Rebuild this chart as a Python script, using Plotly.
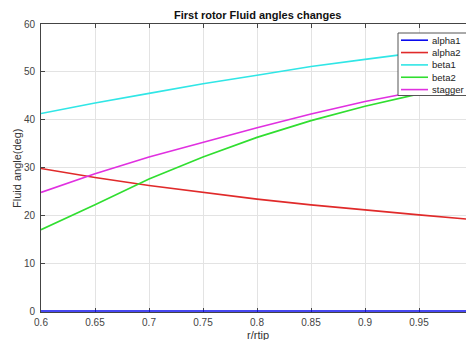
import plotly.graph_objects as go

# ---- data ----
r_rtip = [0.60, 0.65, 0.70, 0.75, 0.80, 0.85, 0.90, 0.95, 1.00]
alpha1 = [0, 0, 0, 0, 0, 0, 0, 0, 0]
alpha2 = [29.8, 27.9, 26.25, 24.75, 23.4, 22.2, 21.1, 20.1, 19.1]
beta1 = [41.3, 43.5, 45.5, 47.5, 49.3, 51.1, 52.6, 54.1, 55.5]
beta2 = [17.0, 22.2, 27.6, 32.2, 36.3, 39.8, 42.8, 45.4, 47.6]
stagger = [24.8, 28.7, 32.2, 35.3, 38.3, 41.2, 43.8, 46.0, 48.0]

series_names = ["alpha1", "alpha2", "beta1", "beta2", "stagger"]
series_values = [alpha1, alpha2, beta1, beta2, stagger]
series_colors = ["#0a0aee", "#e02a2a", "#30e6e6", "#30de30", "#e030e0"]

x_ticks = [0.6, 0.65, 0.7, 0.75, 0.8, 0.85, 0.9, 0.95]
x_ticklabels = ["0.6", "0.65", "0.7", "0.75", "0.8", "0.85", "0.9", "0.95"]
y_ticks = [0, 10, 20, 30, 40, 50, 60]
y_ticklabels = ["0", "10", "20", "30", "40", "50", "60"]

title_text = "First rotor Fluid angles changes"
x_title = "r/rtip"
y_title = "Fluid angle(deg)"

# ---- layout geometry ----
W, H = 466, 340
L, R, T, B = 41, 0, 24, 28
plot_w = W - L - R
plot_h = H - T - B
x0 = 0.6
x1 = x0 + plot_w / 1080.0

FONT = "Liberation Sans, Arial, sans-serif"

fig = go.Figure()
for name, vals, col in zip(series_names, series_values, series_colors):
    fig.add_trace(go.Scatter(x=r_rtip, y=vals, mode="lines", name=name,
                             line=dict(color=col, width=1.6)))

def px2paper_x(px):
    return (px - L) / plot_w

def px2paper_y(py):
    return (H - B - py) / plot_h

shapes = []
annotations = []
# legend box
shapes.append(dict(type="rect", xref="paper", yref="paper",
                   x0=px2paper_x(398), x1=px2paper_x(472),
                   y0=px2paper_y(95.5), y1=px2paper_y(33),
                   line=dict(color="#555555", width=1), fillcolor="white",
                   layer="above"))
for i, (name, col) in enumerate(zip(series_names, series_colors)):
    yy = 40.2 + i * 12.35
    shapes.append(dict(type="line", xref="paper", yref="paper",
                       x0=px2paper_x(401), x1=px2paper_x(428),
                       y0=px2paper_y(yy), y1=px2paper_y(yy),
                       line=dict(color=col, width=1.6), layer="above"))
    annotations.append(dict(text=name, xref="paper", yref="paper",
                            x=px2paper_x(430), y=px2paper_y(yy),
                            xanchor="left", yanchor="middle", showarrow=False,
                            font=dict(family=FONT, size=9.5, color="#222222")))

# axis titles
annotations.append(dict(text=x_title, xref="paper", yref="paper",
                        x=px2paper_x(258), y=px2paper_y(334.5), xanchor="center",
                        yanchor="middle", showarrow=False,
                        font=dict(family=FONT, size=11, color="#333333")))
annotations.append(dict(text=y_title, xref="paper", yref="paper",
                        x=px2paper_x(17), y=px2paper_y(168), xanchor="center",
                        yanchor="middle", showarrow=False, textangle=-90,
                        font=dict(family=FONT, size=11, color="#333333")))
annotations.append(dict(text="<b>" + title_text + "</b>", xref="paper", yref="paper",
                        x=px2paper_x(257), y=px2paper_y(15), xanchor="center",
                        yanchor="middle", showarrow=False,
                        font=dict(family=FONT, size=11, color="#111111")))

axis_common = dict(showgrid=True, gridcolor="#e3e3e3", gridwidth=1,
                   ticks="inside", ticklen=4, tickcolor="#444444", tickwidth=1,
                   showline=True, linecolor="#444444", linewidth=1,
                   zeroline=False, layer="below traces",
                   tickfont=dict(family=FONT, size=10, color="#444444"))

fig.update_layout(
    width=W, height=H,
    margin=dict(l=L, r=R, t=T, b=B, pad=0),
    paper_bgcolor="white", plot_bgcolor="white",
    showlegend=False,
    shapes=shapes, annotations=annotations,
    xaxis=dict(range=[x0, x1], tickvals=x_ticks, ticktext=x_ticklabels,
               mirror="ticks", ticklabelstandoff=1, **axis_common),
    yaxis=dict(range=[-0.2, 60], tickvals=y_ticks, ticktext=y_ticklabels,
               mirror=False, ticklabelstandoff=3, **axis_common),
)

fig.write_html("out.html")
